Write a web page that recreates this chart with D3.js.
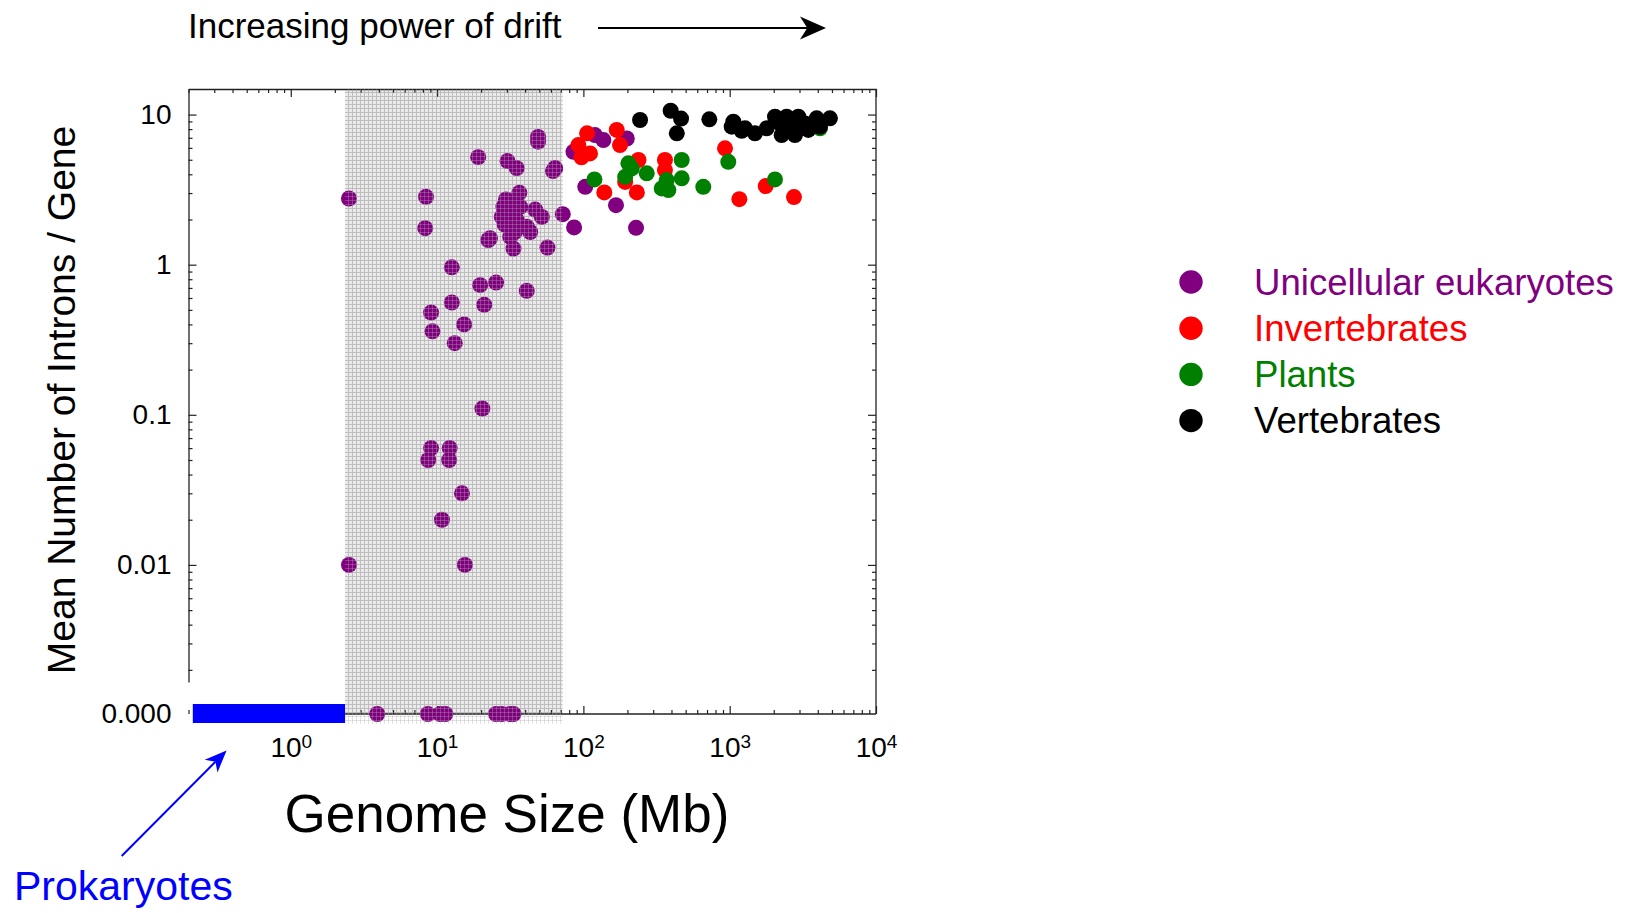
<!DOCTYPE html>
<html>
<head>
<meta charset="utf-8">
<script src="https://cdn.jsdelivr.net/npm/d3@7"></script>
<style>
  body { margin: 0; background: #fff; }
  svg { display: block; font-family: "Liberation Sans", Arial, sans-serif; }
</style>
</head>
<body>
<svg id="chart" width="1630" height="913"></svg>
<script>
// Legend groups, drawn in this order (later ones on top)
const groupNames = ["Unicellular eukaryotes", "Invertebrates", "Plants", "Vertebrates"];
const groupColors = ["#800080", "#ff0000", "#008000", "#000000"];

// [genome size (Mb), mean number of introns / gene]; 0 introns sits on the 0.000 row
const unicellular = [
    [2.5, 2.76], [8.4, 2.83], [8.3, 1.75], [19.1, 5.2], [49, 7.1], [49, 6.6], [30.3, 4.9], [35, 4.4],
    [64, 4.4], [62, 4.2], [36.5, 3.01], [29.6, 2.72], [28.4, 2.43], [27.7, 2.08], [32.4, 2.19], [37, 2.43],
    [35.1, 1.98], [41, 1.79], [43.3, 1.65], [31.6, 1.53], [33.3, 1.28], [23, 1.5], [22.4, 1.46], [46.8, 2.33],
    [52, 2.08], [56.8, 1.3], [72.3, 2.17], [86.4, 1.77], [30, 2.3], [33, 2.6], [29, 1.85], [34, 1.65],
    [12.6, 0.96], [19.7, 0.73], [25.3, 0.76], [41, 0.67], [12.6, 0.56], [21, 0.54], [9.1, 0.48], [9.3, 0.36],
    [15.3, 0.4], [13.2, 0.3], [20.4, 0.11], [9.1, 0.06], [12.2, 0.06], [8.7, 0.05], [12.1, 0.05], [14.8, 0.03],
    [10.8, 0.02], [2.5, 0.01], [15.5, 0.01],
    [3.9, 0], [8.65, 0], [10.5, 0], [11.4, 0], [25.3, 0], [27.7, 0], [31.6, 0], [33.3, 0],
    [120, 7.3], [137, 6.76], [198, 6.93], [85.5, 5.65], [103, 3.3], [167, 2.49], [229, 1.76], [64, 4.38]
];
const invertebrates = [
    [106, 7.5], [169, 7.9], [92.4, 6.26], [100, 5.37], [111, 5.51], [97, 5.19], [178, 6.26], [238, 4.98],
    [361, 4.98], [361, 4.27], [193, 3.56], [139, 3.03], [232, 3.03], [929, 5.96], [1164, 2.73], [1762, 3.34],
    [2750, 2.82]
];
const plants = [
    [119, 3.7], [203, 4.73], [214, 4.38], [193, 3.85], [271, 4.06], [470, 4.98], [371, 3.66], [343, 3.22],
    [381, 3.14], [470, 3.76], [660, 3.3], [978, 4.84], [2040, 3.7], [4140, 8.1]
];
const vertebrates = [
    [244, 9.2], [395, 10.6], [465, 9.4], [435, 7.5], [726, 9.3], [1059, 8.96], [1032, 8.3], [1273, 8.1],
    [1208, 7.8], [1489, 7.5], [1790, 8.1], [2040, 9.67], [2206, 8.73], [2265, 7.3], [2450, 9.67], [2450, 8.1],
    [2653, 8.1], [2793, 7.3], [2944, 9.67], [3268, 8.73], [3444, 7.9], [3929, 9.44], [4140, 8.3], [4842, 9.44],
    [2100, 9.0], [2600, 9.0], [3000, 8.5]
];
const groupData = [unicellular, invertebrates, plants, vertebrates];

// Axis ticks
const xTickValues = [1, 10, 100, 1000, 10000];
const yTickValues = [10, 1, 0.1, 0.01];
const yTickLabels = ["10", "1", "0.1", "0.01"];
const zeroLabel = "0.000";

// Genome-size ranges: prokaryote bar and the shaded band
const prokaryoteRange = [0.214, 2.35];
const driftRange = [2.35, 72];

const svg = d3.select("#chart");
const font = "'Liberation Sans', Arial, sans-serif";

// Scales
const x = d3.scaleLog().domain([0.2, 10000]).range([188.5, 876]);
const y = d3.scaleLog().domain([0.00166, 14.8]).range([682, 89]);
const yZero = 714;
const yPos = v => v === 0 ? yZero : y(v);
const [plotLeft, plotRight] = x.range();
const plotTop = y.range()[1];

function minorTicks(lo, hi) {
    const out = [];
    for (let e = -4; e <= 4; e++) {
        for (let k = 2; k <= 9; k++) {
            const v = +(k * Math.pow(10, e)).toPrecision(3);
            if (v >= lo && v <= hi) out.push(v);
        }
    }
    return out;
}
const xMinor = minorTicks(0.2, 10000);
const yMinor = minorTicks(0.00166, 14.8);

// Patterns for the shaded band
const defs = svg.append("defs");
const base = defs.append("pattern")
    .attr("id", "shadeBase")
    .attr("patternUnits", "userSpaceOnUse")
    .attr("width", 4).attr("height", 4);
base.append("rect").attr("width", 4).attr("height", 4).attr("fill", "#eaeaea");
base.append("rect").attr("width", 4).attr("height", 1).attr("fill", "#cacaca");
base.append("rect").attr("width", 1).attr("height", 4).attr("fill", "#cacaca");

const over = defs.append("pattern")
    .attr("id", "shadeOver")
    .attr("patternUnits", "userSpaceOnUse")
    .attr("width", 4).attr("height", 4);
over.append("rect").attr("width", 4).attr("height", 1).attr("fill", "#aaa").attr("opacity", 0.35);
over.append("rect").attr("width", 1).attr("height", 4).attr("fill", "#aaa").attr("opacity", 0.35);

// Shaded band
svg.append("rect")
    .attr("x", x(driftRange[0]))
    .attr("y", plotTop)
    .attr("width", x(driftRange[1]) - x(driftRange[0]))
    .attr("height", yZero - plotTop)
    .attr("fill", "url(#shadeBase)");

// Axis helper: strip d3 defaults and set line style
function styleAxis(g, keepDomain) {
    g.attr("font-family", font).attr("font-size", 28);
    g.selectAll("line").attr("stroke", "#222").attr("stroke-width", 1.2);
    g.select(".domain").attr("stroke", "#222").attr("stroke-width", 1.3);
    if (!keepDomain) g.select(".domain").remove();
    g.selectAll("text").attr("fill", "#000");
}

// Top axis
svg.append("g").attr("transform", `translate(0,${plotTop})`)
    .call(d3.axisTop(x).tickValues(xTickValues).tickSize(-8).tickSizeOuter(0).tickFormat(""))
    .call(g => styleAxis(g, true));
svg.append("g").attr("transform", `translate(0,${plotTop})`)
    .call(d3.axisTop(x).tickValues(xMinor).tickSize(-4).tickFormat(""))
    .call(g => styleAxis(g, false));

// Bottom axis (zero row), labels as powers of ten
svg.append("g").attr("transform", `translate(0,${yZero})`)
    .call(d3.axisBottom(x).tickValues(xTickValues).tickSize(-8).tickPadding(23).tickFormat(""))
    .call(g => styleAxis(g, false))
    .call(g => g.selectAll(".tick text").each(function(d) {
        const t = d3.select(this);
        t.text("10");
        t.append("tspan").attr("dy", "-0.45em").attr("font-size", 19).text(Math.round(Math.log10(d)));
    }));
svg.append("g").attr("transform", `translate(0,${yZero})`)
    .call(d3.axisBottom(x).tickValues(xMinor).tickSize(-4).tickFormat(""))
    .call(g => styleAxis(g, false));
svg.append("line")
    .attr("x1", x(driftRange[0])).attr("x2", plotRight)
    .attr("y1", yZero).attr("y2", yZero)
    .attr("stroke", "#222").attr("stroke-width", 1.3);

// Left axis
svg.append("g").attr("transform", `translate(${plotLeft},0)`)
    .call(d3.axisLeft(y).tickValues(yTickValues).tickSize(-8).tickSizeOuter(0).tickPadding(17)
        .tickFormat((d, i) => yTickLabels[i]))
    .call(g => styleAxis(g, true));
svg.append("g").attr("transform", `translate(${plotLeft},0)`)
    .call(d3.axisLeft(y).tickValues(yMinor).tickSize(-4).tickFormat(""))
    .call(g => styleAxis(g, false));
svg.append("text")
    .attr("x", plotLeft - 17)
    .attr("y", yZero)
    .attr("dy", "0.32em")
    .attr("text-anchor", "end")
    .attr("font-size", 28)
    .text(zeroLabel);

// Right axis
svg.append("g").attr("transform", `translate(${plotRight},0)`)
    .call(d3.axisRight(y).tickValues(yTickValues).tickSize(-8).tickFormat(""))
    .call(g => styleAxis(g, false));
svg.append("g").attr("transform", `translate(${plotRight},0)`)
    .call(d3.axisRight(y).tickValues(yMinor).tickSize(-4).tickFormat(""))
    .call(g => styleAxis(g, false));
svg.append("line")
    .attr("x1", plotRight).attr("x2", plotRight)
    .attr("y1", plotTop).attr("y2", yZero)
    .attr("stroke", "#222").attr("stroke-width", 1.3);

// Prokaryote bar
svg.append("rect")
    .attr("x", x(prokaryoteRange[0]))
    .attr("y", yZero - 10)
    .attr("width", x(prokaryoteRange[1]) - x(prokaryoteRange[0]))
    .attr("height", 19)
    .attr("fill", "#0000ff");

// Points
groupData.forEach((data, i) => {
    svg.append("g")
        .selectAll("circle")
        .data(data)
        .join("circle")
        .attr("cx", d => x(d[0]))
        .attr("cy", d => yPos(d[1]))
        .attr("r", 8)
        .attr("fill", groupColors[i]);
});

// Texture over the points inside the band
svg.append("rect")
    .attr("x", x(driftRange[0]))
    .attr("y", plotTop)
    .attr("width", x(driftRange[1]) - x(driftRange[0]))
    .attr("height", yZero - plotTop + 10)
    .attr("fill", "url(#shadeOver)");

// Arrow with a notched head
function arrow(x1, y1, x2, y2, len, half, color, width) {
    const a = Math.atan2(y2 - y1, x2 - x1);
    const c = Math.cos(a), s = Math.sin(a);
    const bx = x2 - len * c, by = y2 - len * s;
    const nx = x2 - len * 0.72 * c, ny = y2 - len * 0.72 * s;
    svg.append("line")
        .attr("x1", x1).attr("y1", y1).attr("x2", nx).attr("y2", ny)
        .attr("stroke", color).attr("stroke-width", width);
    svg.append("path")
        .attr("d", `M${x2},${y2}L${bx - half * s},${by + half * c}L${nx},${ny}L${bx + half * s},${by - half * c}Z`)
        .attr("fill", color);
}

// Titles and annotations
svg.append("text")
    .attr("x", 188).attr("y", 37.5)
    .attr("font-size", 35)
    .text("Increasing power of drift");
arrow(598, 28, 826, 28, 26, 11.5, "#000", 2);

svg.append("text")
    .attr("transform", "translate(75,400) rotate(-90)")
    .attr("text-anchor", "middle")
    .attr("font-size", 39)
    .text("Mean Number of Introns / Gene");

svg.append("text")
    .attr("x", 507).attr("y", 832)
    .attr("text-anchor", "middle")
    .attr("font-size", 53)
    .text("Genome Size (Mb)");

arrow(121.7, 856, 226.6, 750.5, 22, 9, "#0000ff", 2);
svg.append("text")
    .attr("x", 14).attr("y", 900)
    .attr("font-size", 41)
    .attr("fill", "#0000ff")
    .text("Prokaryotes");

// Legend
const legend = svg.append("g").attr("transform", "translate(1191,282)");
groupNames.forEach((name, i) => {
    const row = legend.append("g").attr("transform", `translate(0,${i * 46.2})`);
    row.append("circle").attr("r", 11.7).attr("fill", groupColors[i]);
    row.append("text")
        .attr("x", 63)
        .attr("dy", "0.35em")
        .attr("font-size", 36.6)
        .attr("fill", groupColors[i])
        .text(name);
});
</script>
</body>
</html>
